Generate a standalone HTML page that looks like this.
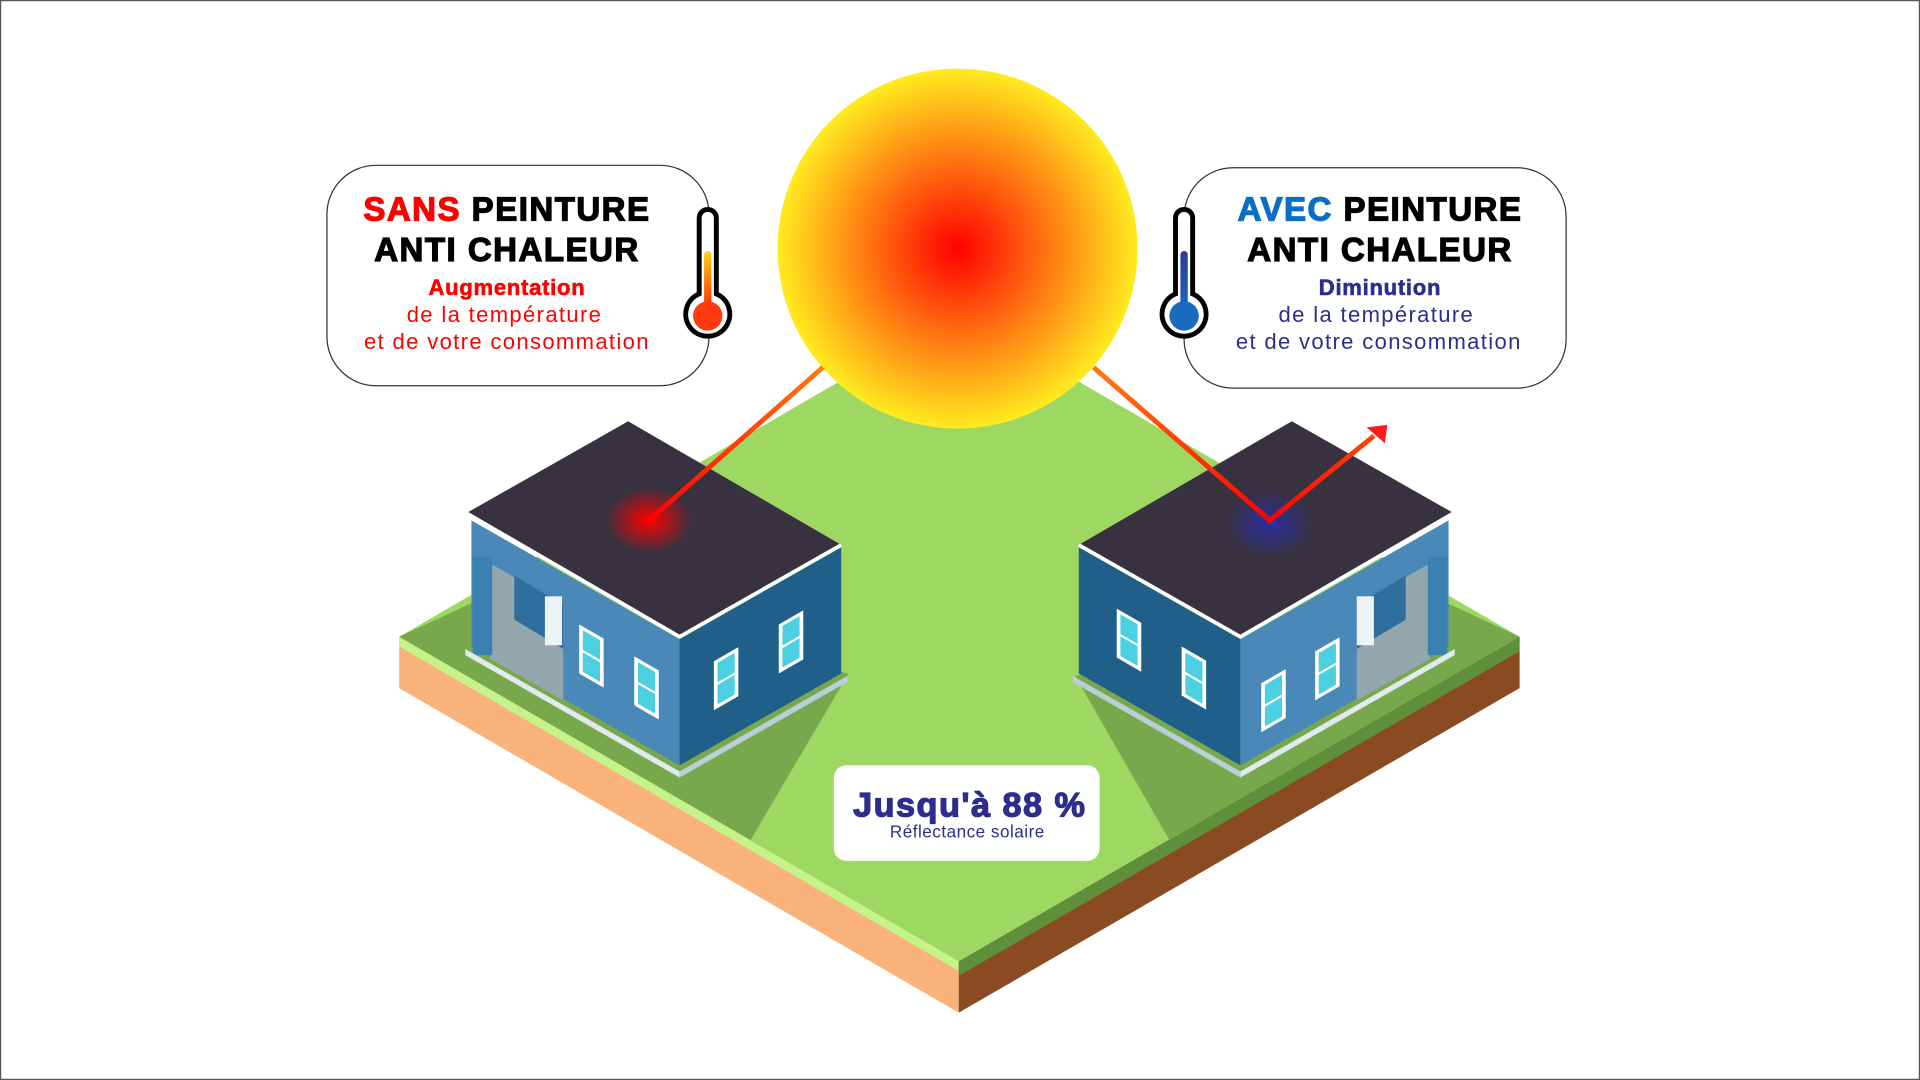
<!DOCTYPE html>
<html><head><meta charset="utf-8"><style>
html,body{margin:0;padding:0;background:#fff;}
svg{display:block;}
text{font-family:"Liberation Sans",sans-serif;}
</style></head><body>
<svg width="1920" height="1080" viewBox="0 0 1568 882" xmlns="http://www.w3.org/2000/svg">
<defs>
<radialGradient id="sun" cx="0.5" cy="0.5" r="0.5">
<stop offset="0" stop-color="#ff0000"/><stop offset="0.45" stop-color="#ff6a10"/><stop offset="1" stop-color="#ffeb1f"/>
</radialGradient>
<radialGradient id="rg" cx="0.5" cy="0.5" r="0.5">
<stop offset="0" stop-color="#ff0000" stop-opacity="1"/><stop offset="1" stop-color="#ff0000" stop-opacity="0"/>
</radialGradient>
<radialGradient id="bg" cx="0.5" cy="0.5" r="0.5">
<stop offset="0" stop-color="#2c2fa0" stop-opacity="1"/><stop offset="1" stop-color="#2c2fa0" stop-opacity="0"/>
</radialGradient>
<linearGradient id="ray" x1="0" y1="0" x2="0" y2="1"><stop offset="0" stop-color="#ff7a10"/><stop offset="1" stop-color="#ff0000"/></linearGradient>
<linearGradient id="thr" x1="0" y1="0" x2="0" y2="1"><stop offset="0" stop-color="#ffd21a"/><stop offset="1" stop-color="#ff2a00"/></linearGradient>
<linearGradient id="thb" x1="0" y1="0" x2="0" y2="1"><stop offset="0" stop-color="#2c3a98"/><stop offset="1" stop-color="#1a6ac0"/></linearGradient>
<g id="win"><rect x="0" y="0" width="20" height="40" fill="#fff"/><rect x="3" y="3" width="14" height="16" fill="#4ccfe0"/><rect x="3" y="21" width="14" height="16" fill="#4ccfe0"/></g>
</defs>
<rect x="0.5" y="0.5" width="1567" height="881" fill="#fff" stroke="#555" stroke-width="1"/>
<!-- ground -->
<polygon points="326,520 783,785 783,827 326,562" fill="#f8b27a"/>
<polygon points="326,520 783,785 783,793 326,528" fill="#c6f28a"/>
<polygon points="783,785 1241,520 1241,562 783,827" fill="#8a4a22"/>
<polygon points="783,785 1241,520 1241,532 783,797" fill="#5e8f3a"/>
<polygon points="326,520 783,255 1241,520 783,785" fill="#9ed862"/>
<polygon points="326,520 395,488 693,550 613,686" fill="#78a84c"/>
<polygon points="878,552 1172,488 1241,520 955,686" fill="#78a84c"/>
<!-- sun -->
<circle cx="782" cy="203" r="147" fill="url(#sun)"/>
<!-- left house -->
<polygon points="385,425 555,522 555,625 385,528" fill="#4a88b8"/>
<polygon points="555,522 687,447 687,550 555,625" fill="#1f5f8a"/>
<polygon points="400,460 460,494 460,572 400,538" fill="#93a8ad"/>
<polygon points="420,470 460,494 460,530 420,506" fill="#2f6f9e"/>
<rect x="386" y="455" width="16" height="80" fill="#3a80b0"/>
<polygon points="380,530 555,630 555,635 380,535" fill="#dfe9ee"/>
<polygon points="555,630 692,552 692,557 555,635" fill="#b8cfd9"/>
<polygon points="381,419 513,344 687,445 555,520" fill="#373140"/>
<polyline points="381,419 555,520 687,445" fill="none" stroke="#fff" stroke-width="3"/>
<rect x="445" y="487" width="14" height="40" fill="#eef3f5"/>
<use href="#win" transform="translate(473,510) skewY(30)"/>
<use href="#win" transform="translate(518,536) skewY(30)"/>
<use href="#win" transform="translate(583,540) skewY(-30)"/>
<use href="#win" transform="translate(636,510) skewY(-30)"/>
<ellipse cx="530" cy="425" rx="36" ry="27" fill="url(#rg)"/>
<line x1="672" y1="300" x2="530" y2="425" stroke="url(#ray)" stroke-width="4"/>
<!-- right house -->
<polygon points="881,447 1013,522 1013,625 881,550" fill="#1f5f8a"/>
<polygon points="1013,522 1183,425 1183,528 1013,625" fill="#4a88b8"/>
<polygon points="1108,494 1168,460 1168,538 1108,572" fill="#93a8ad"/>
<polygon points="1108,494 1148,470 1148,506 1108,530" fill="#2f6f9e"/>
<rect x="1166" y="455" width="16" height="80" fill="#3a80b0"/>
<polygon points="876,552 1013,630 1013,635 876,557" fill="#b8cfd9"/>
<polygon points="1013,630 1188,530 1188,535 1013,635" fill="#dfe9ee"/>
<polygon points="881,445 1055,344 1187,419 1013,520" fill="#373140"/>
<polyline points="881,445 1013,520 1187,419" fill="none" stroke="#fff" stroke-width="3"/>
<rect x="1108" y="487" width="14" height="40" fill="#eef3f5"/>
<use href="#win" transform="translate(912,497) skewY(30)"/>
<use href="#win" transform="translate(965,528) skewY(30)"/>
<use href="#win" transform="translate(1030,558) skewY(-30)"/>
<use href="#win" transform="translate(1074,532) skewY(-30)"/>
<ellipse cx="1037" cy="428" rx="36" ry="27" fill="url(#bg)"/>
<polyline points="893,300 1037,425 1122,356" fill="none" stroke="url(#ray)" stroke-width="4"/>
<polygon points="1116,349 1133,347 1131,362" fill="#ff1a1a"/>
<!-- left box -->
<rect x="267" y="135" width="312" height="180" rx="40" fill="#fff" stroke="#333" stroke-width="1"/>
<text x="414" y="180" text-anchor="middle" font-size="27" font-weight="bold" stroke-width="1" letter-spacing="1.2"><tspan fill="#ff0000" stroke="#ff0000">SANS</tspan><tspan fill="#000" stroke="#000"> PEINTURE</tspan></text>
<text x="414" y="213" text-anchor="middle" font-size="27" font-weight="bold" fill="#000" stroke="#000" stroke-width="1" letter-spacing="1.2">ANTI CHALEUR</text>
<text x="414" y="241" text-anchor="middle" font-size="18" font-weight="bold" fill="#ff0000" stroke="#ff0000" stroke-width="0.5" letter-spacing="0.6">Augmentation</text>
<text x="412" y="263" text-anchor="middle" font-size="18" fill="#ff0000" letter-spacing="1.1">de la température</text>
<text x="414" y="285" text-anchor="middle" font-size="18" fill="#ff0000" letter-spacing="1.1">et de votre consommation</text>
<!-- left thermometer -->
<path d="M571,178 a7,7 0 0 1 14,0 v62 a18,18 0 1 1 -14,0 z" fill="#fff" stroke="#000" stroke-width="4"/>
<rect x="575" y="205" width="6" height="48" rx="3" fill="url(#thr)"/>
<circle cx="578" cy="258" r="12" fill="#ff3a10"/>
<!-- right box -->
<rect x="967" y="137" width="312" height="180" rx="40" fill="#fff" stroke="#333" stroke-width="1"/>
<text x="1127" y="180" text-anchor="middle" font-size="27" font-weight="bold" stroke-width="1" letter-spacing="1.2"><tspan fill="#0a6fc4" stroke="#0a6fc4">AVEC</tspan><tspan fill="#000" stroke="#000"> PEINTURE</tspan></text>
<text x="1127" y="213" text-anchor="middle" font-size="27" font-weight="bold" fill="#000" stroke="#000" stroke-width="1" letter-spacing="1.2">ANTI CHALEUR</text>
<text x="1127" y="241" text-anchor="middle" font-size="18" font-weight="bold" fill="#2b2e8c" stroke="#2b2e8c" stroke-width="0.5" letter-spacing="0.6">Diminution</text>
<text x="1124" y="263" text-anchor="middle" font-size="18" fill="#2b2e8c" letter-spacing="1.1">de la température</text>
<text x="1126" y="285" text-anchor="middle" font-size="18" fill="#2b2e8c" letter-spacing="1.1">et de votre consommation</text>
<!-- right thermometer -->
<path d="M960,178 a7,7 0 0 1 14,0 v62 a18,18 0 1 1 -14,0 z" fill="#fff" stroke="#000" stroke-width="4"/>
<rect x="964" y="205" width="6" height="48" rx="3" fill="url(#thb)"/>
<circle cx="967" cy="258" r="12" fill="#1a6ac0"/>
<!-- label -->
<rect x="681" y="625" width="217" height="78" rx="10" fill="#fff"/>
<text x="792" y="667" text-anchor="middle" font-size="28" font-weight="bold" fill="#2b2e8c" stroke="#2b2e8c" stroke-width="1" letter-spacing="1.2">Jusqu'à 88 %</text>
<text x="790" y="684" text-anchor="middle" font-size="14" fill="#2b2e8c" letter-spacing="0.4">Réflectance solaire</text>
</svg>
</body></html>
